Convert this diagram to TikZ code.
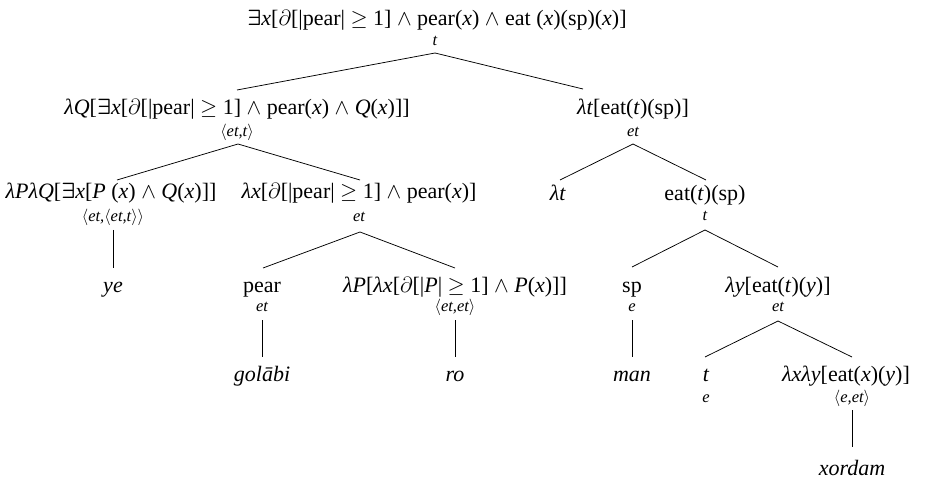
\RequirePackage{fix-cm}
\documentclass[tikz,border=0pt]{standalone}
\usepackage{amsmath}
\usepackage{fontspec}
\setmainfont{Liberation Serif}
\usetikzlibrary{calc}
\newcommand{\EX}{$\boldsymbol{\exists}$}
\newcommand{\AN}{ $\wedge$ }
\newcommand{\PD}{$\partial$}
\newcommand{\GE}{$\geq$}
\newcommand{\LA}{\textit{λ}}
\newcommand{\ix}[1]{\textit{#1}}
\newcommand{\LT}{$\langle$}
\newcommand{\RT}{$\rangle$}
\begin{document}
\begin{tikzpicture}[x=1pt,y=-1pt,
  every node/.style={inner sep=0pt, anchor=base},
  lbl/.style={font=\fontsize{22}{26}\selectfont},
  leaf/.style={font=\fontsize{22}{26}\selectfont\itshape},
  typ/.style={font=\fontsize{16.5}{19}\selectfont\itshape},
  br/.style={line width=0.75pt}]
\useasboundingbox (0,0) rectangle (926,478);
% root
\node[lbl] (r) at (437,26) {\EX\ix{x}[\PD[|pear| \GE\ 1]\AN pear(\ix{x})\AN eat (\ix{x})(sp)(\ix{x})]};
\node[typ] (rt) at (435,46) {t};
% left level 1
\node[lbl] (a) at (237,115) {\LA\ix{Q}[\EX\ix{x}[\PD[|pear| \GE\ 1]\AN pear(\ix{x})\AN \ix{Q}(\ix{x})]]};
\node[typ] (at) at (237,137) {\LT et,t\RT};
% right level 1
\node[lbl] (b) at (633,115) {\LA\ix{t}[eat(\ix{t})(sp)]};
\node[typ] (bt) at (633,137) {et};
% left level 2
\node[lbl] (c) at (111,199) {\LA\ix{P}\LA\ix{Q}[\EX\ix{x}[\ix{P} (\ix{x})\AN \ix{Q}(\ix{x})]]};
\node[typ] (ct) at (113,222) {\LT et,\LT et,t\RT\RT};
\node[leaf] (ye) at (113,292) {ye};
\node[lbl] (d) at (359,199) {\LA\ix{x}[\PD[|pear| \GE\ 1]\AN pear(\ix{x})]};
\node[typ] (dt) at (359,222) {et};
% pear / lambda P
\node[lbl] (e) at (262,292) {pear};
\node[typ] (et) at (262,311) {et};
\node[leaf] (gol) at (262,381) {golābi};
\node[lbl] (f) at (455,292) {\LA\ix{P}[\LA\ix{x}[\PD[|\ix{P}| \GE\ 1]\AN \ix{P}(\ix{x})]]};
\node[typ] (ft) at (455,311) {\LT et,et\RT};
\node[leaf] (ro) at (455,381) {ro};
% right level 2
\node[lbl] (g) at (558,201) {\LA\ix{t}};
\node[lbl] (h) at (705,201) {eat(\ix{t})(sp)};
\node[typ] (ht) at (705,221) {t};
% level 3
\node[lbl] (i) at (632,292) {sp};
\node[typ] (it) at (632,311) {e};
\node[leaf] (man) at (632,381) {man};
\node[lbl] (j) at (778,292) {\LA\ix{y}[eat(\ix{t})(\ix{y})]};
\node[typ] (jt) at (778,311) {et};
% level 4
\node[leaf] (k) at (706,381) {t};
\node[typ] (kt) at (706,402) {e};
\node[lbl] (l) at (846,381) {\LA\ix{x}\LA\ix{y}[eat(\ix{x})(\ix{y})]};
\node[typ] (lt) at (852,402) {\LT e,et\RT};
\node[leaf] (xo) at (852,475) {xordam};
% branches
\draw[br] ($(rt.base)+(0,7)$) -- ($(a.base)+(0,-25)$);
\draw[br] ($(rt.base)+(0,7)$) -- ($(b.base)+(-50,-26)$);
\draw[br] ($(at.base)+(1,7)$) -- ($(c.base)+(6,-19)$);
\draw[br] ($(at.base)+(1,7)$) -- ($(d.base)+(1,-19)$);
\draw[br] ($(ct.base)+(0,8)$) -- ($(ye.base)+(0,-24)$);
\draw[br] ($(dt.base)+(1,10)$) -- ($(e.base)+(1,-24)$);
\draw[br] ($(dt.base)+(1,10)$) -- ($(f.base)+(0,-24)$);
\draw[br] ($(et.base)+(0,9)$) -- ($(gol.base)+(0,-24)$);
\draw[br] ($(ft.base)+(0,9)$) -- ($(ro.base)+(0,-24)$);
\draw[br] ($(bt.base)+(0,7)$) -- ($(g.base)+(2,-21)$);
\draw[br] ($(bt.base)+(0,7)$) -- ($(h.base)+(1,-21)$);
\draw[br] ($(ht.base)+(0,9)$) -- ($(i.base)+(0,-25)$);
\draw[br] ($(ht.base)+(0,9)$) -- ($(j.base)+(0,-25)$);
\draw[br] ($(it.base)+(0,9)$) -- ($(man.base)+(0,-24)$);
\draw[br] ($(jt.base)+(0,10)$) -- ($(k.base)+(-1,-24)$);
\draw[br] ($(jt.base)+(0,10)$) -- ($(lt.base)+(0,-45)$);
\draw[br] ($(lt.base)+(0,8)$) -- ($(xo.base)+(0,-28)$);
\end{tikzpicture}
\end{document}
